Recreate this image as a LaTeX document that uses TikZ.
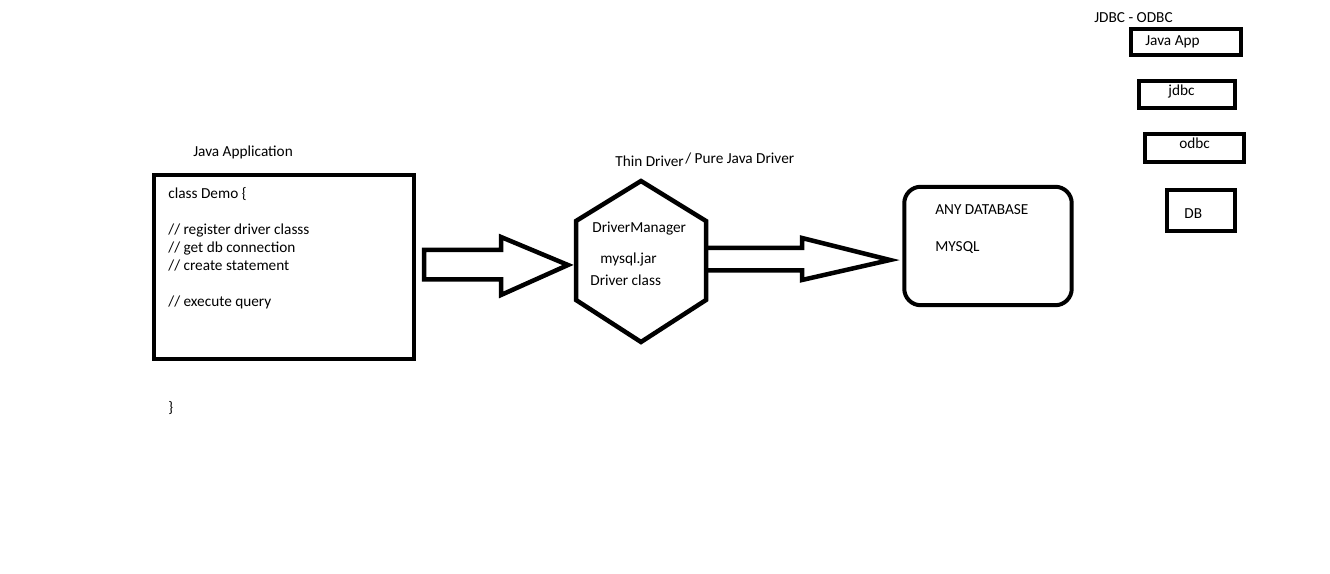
\documentclass[tikz,border=0pt]{standalone}
\usepackage{fontspec}
\setmainfont{Carlito}
\usetikzlibrary{calc,positioning}

\begin{document}
\begin{tikzpicture}[x=0.02cm, y=-0.02cm, frame/.style={draw, line width=0.08cm, inner sep=0pt}, fat/.style={draw, line width=0.09cm, miter limit=20}, txt/.style={anchor=base west, inner sep=0pt, font=\fontsize{8.7}{10}\selectfont}]
		\useasboundingbox (0,0) rectangle (1330,574);

		% java application
		\node[txt] (apptitle) at (193,157) {Java Application};
		\node[frame, minimum width=5.22cm, minimum height=3.67cm] (code) at (284,267) {};
		\node[txt] (l1) at (168,199) {class Demo \{};
		\node[txt] (l2) at (168,235) {// register driver classs};
		\node[txt] (l3) at (168,253) {// get db connection};
		\node[txt] (l4) at (168,271) {// create statement};
		\node[txt] (l5) at (168,307) {// execute query};
		\node[txt] (l6) at (168,413) {\}};

		% driver
		\coordinate (hexN) at (641,181);
		\coordinate (hexS) at (641,342);
		\draw[fat] (hexN) -- (706,221) -- (706,300) -- (hexS) -- (576,300) -- (576,221) -- cycle;
		\node[txt] (thin) at (615,167) {Thin Driver};
		\node[txt] (pure) at (685,164) {/ Pure Java Driver};
		\node[txt] (mgr) at (592,233) {DriverManager};
		\node[txt] (jar) at (600,264) {mysql.jar};
		\node[txt] (cls) at (590,286) {Driver class};

		% database
		\node[frame, rounded corners=0.33cm, minimum width=3.35cm, minimum height=2.37cm] (db) at (988,246) {};
		\node[txt] (any) at (935,215) {ANY DATABASE};
		\node[txt] (mysql) at (935,252) {MYSQL};

		% arrows
		\draw[fat] (424,250) -- (501,250) -- (501,237) -- (568,265) -- (501,295) -- (501,279.5) -- (424,279.5) -- cycle;
		\draw[fat] (706,248) -- (802,248) -- (802,238) -- (890,260) -- (802,280) -- (802,270.5) -- (706,270.5);

		% jdbc - odbc
		\node[txt] (bridge) at (1094,23) {JDBC - ODBC};
		\node[frame, minimum width=2.2cm, minimum height=0.52cm] (japp) at (1186,42) {};
		\node[frame, minimum width=1.92cm, minimum height=0.54cm] (jdbc) at (1187,94.5) {};
		\node[frame, minimum width=1.98cm, minimum height=0.56cm] (odbc) at (1194.5,148) {};
		\node[frame, minimum width=1.36cm, minimum height=0.82cm] (dbbox) at (1201,210.5) {};
		\node[txt] at (1145,46) {Java App};
		\node[txt] at (1168,96) {jdbc};
		\node[txt] at (1179,149) {odbc};
		\node[txt] at (1184,219) {DB};
	\end{tikzpicture}
\end{document}
